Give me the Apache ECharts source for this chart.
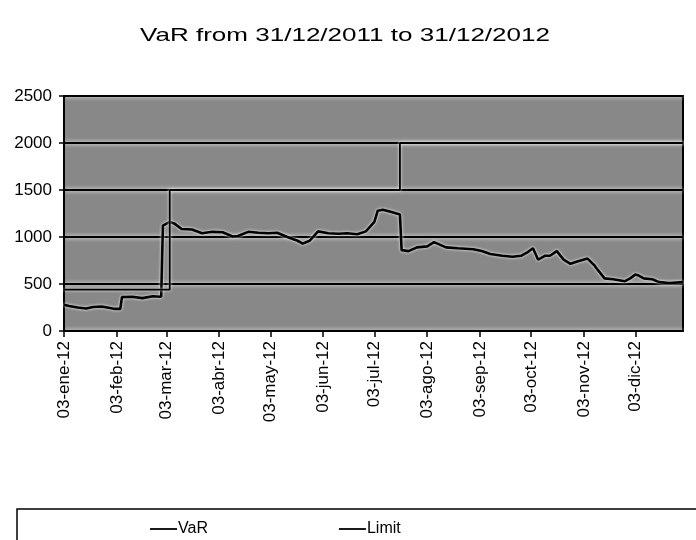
<!DOCTYPE html>
<html>
<head>
<meta charset="utf-8">
<script src="https://cdn.jsdelivr.net/npm/echarts@6/dist/echarts.min.js"></script>
<style>
  html, body { margin: 0; padding: 0; background: #fff; }
  #chart { width: 696px; height: 540px; }
</style>
</head>
<body>
<div id="chart"></div>
<script>
// month names used on the x axis
var months = ['ene', 'feb', 'mar', 'abr', 'may', 'jun', 'jul', 'ago', 'sep', 'oct', 'nov', 'dic'];
var tickDates = ['2012-01-03', '2012-02-03', '2012-03-03', '2012-04-03', '2012-05-03', '2012-06-03',
                 '2012-07-03', '2012-08-03', '2012-09-03', '2012-10-03', '2012-11-03', '2012-12-03'];
var yTicks = [0, 500, 1000, 1500, 2000, 2500];

// VaR
var varDates = ['2012-01-03', '2012-01-06', '2012-01-11', '2012-01-16', '2012-01-20', '2012-01-25',
                '2012-01-30', '2012-02-02', '2012-02-05', '2012-02-06', '2012-02-12', '2012-02-18',
                '2012-02-24', '2012-02-29', '2012-03-01', '2012-03-05', '2012-03-08', '2012-03-12',
                '2012-03-18', '2012-03-24', '2012-03-30', '2012-04-05', '2012-04-11', '2012-04-14',
                '2012-04-20', '2012-04-26', '2012-05-02', '2012-05-07', '2012-05-13', '2012-05-19',
                '2012-05-22', '2012-05-26', '2012-05-31', '2012-06-06', '2012-06-12', '2012-06-17',
                '2012-06-23', '2012-06-28', '2012-06-30', '2012-07-03', '2012-07-05', '2012-07-08',
                '2012-07-12', '2012-07-16', '2012-07-18', '2012-07-19', '2012-07-23', '2012-07-28',
                '2012-08-03', '2012-08-07', '2012-08-14', '2012-08-21', '2012-08-30', '2012-09-04',
                '2012-09-09', '2012-09-16', '2012-09-22', '2012-09-27', '2012-10-01', '2012-10-04',
                '2012-10-07', '2012-10-11', '2012-10-14', '2012-10-18', '2012-10-22', '2012-10-26',
                '2012-10-30', '2012-11-05', '2012-11-09', '2012-11-11', '2012-11-15', '2012-11-20',
                '2012-11-27', '2012-11-30', '2012-12-03', '2012-12-05', '2012-12-08', '2012-12-13',
                '2012-12-17', '2012-12-23', '2012-12-31'];
var varValues = [280, 265, 250, 240, 255, 260,
                 245, 235, 235, 360, 365, 350,
                 370, 365, 1120, 1160, 1140, 1085,
                 1080, 1040, 1055, 1050, 1005, 1010,
                 1055, 1045, 1040, 1045, 1000, 960,
                 930, 960, 1060, 1040, 1035, 1040,
                 1030, 1060, 1100, 1160, 1280, 1290,
                 1270, 1250, 1240, 860, 850, 890,
                 900, 945, 890, 880, 870, 850,
                 820, 800, 790, 800, 840, 880,
                 760, 800, 800, 850, 760, 715,
                 740, 770, 700, 650, 560, 550,
                 530, 560, 600, 590, 560, 550,
                 520, 510, 520];

// Limit
var limitDates = ['2012-01-03', '2012-03-05', '2012-07-18', '2012-12-31'];
var limitValues = [440, 1500, 2000, 2000];

var chart = echarts.init(document.getElementById('chart'));

function dayStamp(s) {
    var p = s.split('-');
    return new Date(+p[0], +p[1] - 1, +p[2]).getTime();
}

var lineIcon = 'path://M0,0H30V2H0Z';

var option = {
    animation: false,
    backgroundColor: '#fff',
    textStyle: { fontFamily: '"Liberation Sans", Arial, sans-serif', color: '#000' },
    graphic: [
        {
            type: 'text',
            x: 345, y: 36,
            scaleX: 1.37,
            style: {
                text: 'VaR from 31/12/2011 to 31/12/2012',
                font: '19px "Liberation Sans", Arial, sans-serif',
                fill: '#000',
                textAlign: 'center',
                textVerticalAlign: 'middle'
            }
        },
        {
            type: 'rect',
            shape: { x: 17, y: 509, width: 700, height: 60 },
            style: { fill: 'none', stroke: '#000', lineWidth: 1.5 }
        }
    ],
    legend: {
        left: 145,
        top: 516,
        itemWidth: 27,
        itemHeight: 2,
        itemGap: 131,
        textStyle: {
            fontSize: 16,
            fontFamily: '"Liberation Sans Narrow", "Liberation Sans", Arial, sans-serif',
            color: '#000',
            padding: [0, 0, 0, -4]
        },
        data: [
            { name: 'VaR', icon: lineIcon },
            { name: 'Limit', icon: lineIcon }
        ]
    },
    grid: {
        left: 64, right: 13, top: 96, bottom: 209,
        show: true,
        backgroundColor: '#888888',
        borderColor: '#000',
        borderWidth: 2
    },
    xAxis: {
        type: 'value',
        min: dayStamp('2012-01-03'),
        max: dayStamp('2012-12-31'),
        axisLine: { lineStyle: { color: '#000', width: 2 } },
        axisTick: {
            customValues: tickDates.map(dayStamp),
            length: 6,
            lineStyle: { color: '#000', width: 1.5 }
        },
        axisLabel: {
            customValues: tickDates.map(dayStamp),
            rotate: 90,
            margin: 10,
            fontSize: 17,
            color: '#000',
            formatter: function (v) {
                var d = new Date(v);
                var dd = ('0' + d.getDate()).slice(-2);
                return dd + '-' + months[d.getMonth()] + '-' + ('' + d.getFullYear()).slice(-2);
            }
        },
        splitLine: { show: false }
    },
    yAxis: {
        type: 'value',
        min: yTicks[0],
        max: yTicks[yTicks.length - 1],
        interval: 500,
        axisLine: { show: true, lineStyle: { color: '#000', width: 2 } },
        axisTick: { show: true, length: 5, lineStyle: { color: '#000', width: 1.5 } },
        axisLabel: {
            fontSize: 17,
            color: '#000',
            margin: 12,
            formatter: function (v) { return String(v); }
        },
        splitLine: {
            lineStyle: { color: '#000', width: 2, shadowColor: '#fff', shadowBlur: 4 }
        }
    },
    series: [
        {
            name: 'VaR',
            type: 'line',
            symbol: 'none',
            lineStyle: { color: '#000', width: 2.6, shadowColor: '#fff', shadowBlur: 3 },
            itemStyle: { color: '#000' },
            data: varDates.map(function (d, i) { return [dayStamp(d), varValues[i]]; })
        },
        {
            name: 'Limit',
            type: 'line',
            step: 'end',
            symbol: 'none',
            lineStyle: { color: '#000', width: 1.8, shadowColor: '#fff', shadowBlur: 3 },
            itemStyle: { color: '#000' },
            data: limitDates.map(function (d, i) { return [dayStamp(d), limitValues[i]]; })
        }
    ]
};

chart.setOption(option);
</script>
</body>
</html>
